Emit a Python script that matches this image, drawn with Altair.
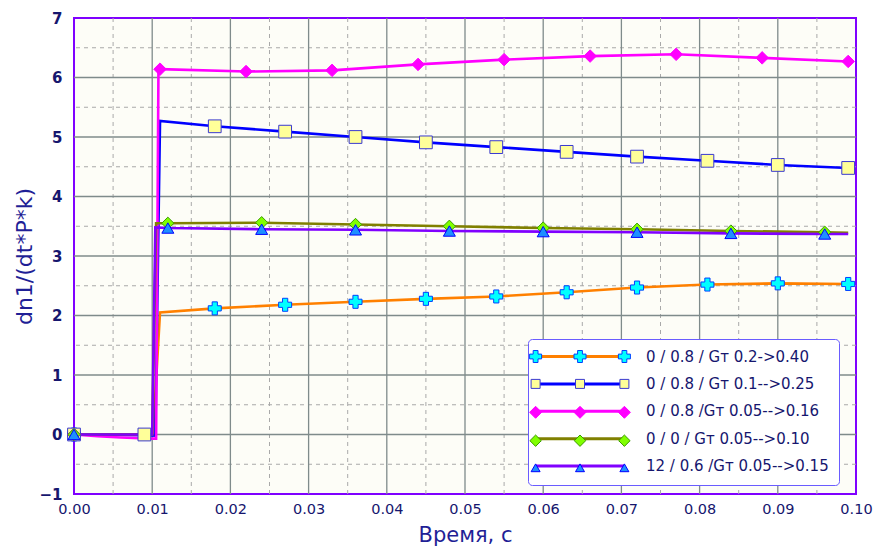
import altair as alt
import pandas as pd

# ---------------- data ----------------
labels = [
    "0 / 0.8 / Gт 0.2->0.40",
    "0 / 0.8 / Gт 0.1-->0.25",
    "0 / 0.8 /Gт 0.05-->0.16",
    "0 / 0 / Gт 0.05-->0.10",
    "12 / 0.6 /Gт 0.05-->0.15",
]

# series 1 (orange)
s1_t = [0, 0.0101, 0.0110, 0.018, 0.027, 0.036, 0.045, 0.054, 0.063, 0.072, 0.081, 0.090, 0.099]
s1_v = [0, 0.0, 2.05, 2.12, 2.18, 2.23, 2.28, 2.32, 2.39, 2.47, 2.52, 2.54, 2.53]
s1_mt = [0, 0.018, 0.027, 0.036, 0.045, 0.054, 0.063, 0.072, 0.081, 0.090, 0.099]
s1_mv = [0, 2.12, 2.18, 2.23, 2.28, 2.32, 2.39, 2.47, 2.52, 2.54, 2.53]

# series 2 (blue)
s2_t = [0, 0.009, 0.0104, 0.0110, 0.018, 0.027, 0.036, 0.045, 0.054, 0.063, 0.072, 0.081, 0.090, 0.099]
s2_v = [0, -0.01, -0.02, 5.27, 5.18, 5.09, 5.00, 4.91, 4.83, 4.75, 4.67, 4.60, 4.53, 4.48]
s2_mt = [0, 0.009, 0.018, 0.027, 0.036, 0.045, 0.054, 0.063, 0.072, 0.081, 0.090, 0.099]
s2_mv = [0, 0.0, 5.18, 5.09, 5.00, 4.91, 4.83, 4.75, 4.67, 4.60, 4.53, 4.48]

# series 3 (magenta)
s3_t = [0, 0.003, 0.006, 0.0100, 0.0105, 0.0108, 0.011, 0.022, 0.033, 0.044, 0.055, 0.066, 0.077, 0.088, 0.099]
s3_v = [0, -0.03, -0.05, -0.07, -0.07, 6.14, 6.14, 6.10, 6.12, 6.22, 6.30, 6.36, 6.39, 6.33, 6.27]
s3_mt = [0, 0.011, 0.022, 0.033, 0.044, 0.055, 0.066, 0.077, 0.088, 0.099]
s3_mv = [0, 6.14, 6.10, 6.12, 6.22, 6.30, 6.36, 6.39, 6.33, 6.27]

# series 4 (olive / green)
s4_t = [0, 0.0100, 0.0105, 0.012, 0.024, 0.036, 0.048, 0.060, 0.072, 0.084, 0.096, 0.099]
s4_v = [0, 0.0, 3.55, 3.55, 3.56, 3.53, 3.50, 3.47, 3.45, 3.42, 3.40, 3.39]
s4_mt = [0, 0.012, 0.024, 0.036, 0.048, 0.060, 0.072, 0.084, 0.096]
s4_mv = [0, 3.55, 3.56, 3.53, 3.50, 3.47, 3.45, 3.42, 3.40]

# series 5 (purple)
s5_t = [0, 0.0100, 0.0104, 0.012, 0.024, 0.036, 0.048, 0.060, 0.072, 0.084, 0.096, 0.099]
s5_v = [0, 0.0, 3.48, 3.47, 3.45, 3.44, 3.42, 3.41, 3.40, 3.38, 3.37, 3.37]
s5_mt = [0, 0.012, 0.024, 0.036, 0.048, 0.060, 0.072, 0.084, 0.096]
s5_mv = [0, 3.47, 3.45, 3.44, 3.42, 3.41, 3.40, 3.38, 3.37]

x_ticks = [0.0, 0.01, 0.02, 0.03, 0.04, 0.05, 0.06, 0.07, 0.08, 0.09, 0.10]
y_ticks = [-1, 0, 1, 2, 3, 4, 5, 6, 7]
major_x = [0.01, 0.02, 0.03, 0.04, 0.05, 0.06, 0.07, 0.08, 0.09]
major_y = [0, 1, 2, 3, 4, 5, 6]
minor_x = [0.005, 0.015, 0.025, 0.035, 0.045, 0.055, 0.065, 0.075, 0.085, 0.095]
minor_y = [-0.5, 0.5, 1.5, 2.5, 3.5, 4.5, 5.5, 6.5]

# ---------------- styles ----------------
line_colors = ["#ff8000", "#0000ff", "#ff00ff", "#808000", "#8000ff"]
marker_fills = ["#00ffff", "#ffff99", "#ff00ff", "#80ff00", "#1e8fff"]
marker_strokes = ["#0040ff", "#3a3ad0", "#ff00ff", "#3c9a00", "#0000ff"]
marker_shapes = ["cross", "square", "diamond", "diamond", "triangle-up"]
marker_sizes = [169, 144, 225, 169, 100]

NAVY = "#16166e"
TITLE = "#1f1f96"
FONT = "DejaVu Sans"

# legend symbol paths: three markers along a line
_shape_pts = {
    "cross": [(-1, -.4), (-1, .4), (-.4, .4), (-.4, 1), (.4, 1), (.4, .4), (1, .4), (1, -.4),
              (.4, -.4), (.4, -1), (-.4, -1), (-.4, -.4)],
    "square": [(-.75, -.75), (.75, -.75), (.75, .75), (-.75, .75)],
    "diamond": [(0, -1), (1, 0), (0, 1), (-1, 0)],
    "diamond_s": [(0, -.95), (.95, 0), (0, .95), (-.95, 0)],
    "triangle": [(0, -.7), (.75, .6), (-.75, .6)],
}
_legend_keys = ["cross", "square", "diamond", "diamond_s", "triangle"]
SPAN = 7.4


def triple(key):
    parts = []
    for dx in (-SPAN, 0, SPAN):
        pts = _shape_pts[key]
        parts.append("M" + "L".join(f"{x + dx:.2f},{y:.2f}" for x, y in pts) + "Z")
    return "".join(parts)


legend_paths = [triple(k) for k in _legend_keys]

# ---------------- tables ----------------
line_rows, mark_rows = [], []
series_data = [
    (s1_t, s1_v, s1_mt, s1_mv), (s2_t, s2_v, s2_mt, s2_mv), (s3_t, s3_v, s3_mt, s3_mv),
    (s4_t, s4_v, s4_mt, s4_mv), (s5_t, s5_v, s5_mt, s5_mv),
]
for k, (lt, lv, mt, mv) in enumerate(series_data):
    for i, (t, v) in enumerate(zip(lt, lv)):
        line_rows.append({"series": labels[k], "t": t, "v": v, "i": i, "k": k})
    for t, v in zip(mt, mv):
        mark_rows.append({"series": labels[k], "t": t, "v": v, "k": k})
lines_df = pd.DataFrame(line_rows)
marks_df = pd.DataFrame(mark_rows)
minor_x_df = pd.DataFrame({"t": minor_x})
minor_y_df = pd.DataFrame({"v": minor_y})
major_x_df = pd.DataFrame({"t": major_x})
major_y_df = pd.DataFrame({"v": major_y})

# ---------------- scales / axes ----------------
xscale = alt.Scale(domain=[0, 0.1], nice=False, zero=False)
yscale = alt.Scale(domain=[-1, 7], nice=False, zero=False)
xaxis = alt.Axis(values=x_ticks, format=".2f", grid=False,
                 domain=False, ticks=False, labelFlush=False, labelOverlap=False,
                 labelFont=FONT, labelFontSize=14.5, labelColor=NAVY, labelPadding=8,
                 title="Время, с", titleFont=FONT, titleFontSize=21, titleFontWeight="normal",
                 titleColor=TITLE, titlePadding=9)
yaxis = alt.Axis(values=y_ticks, format="d", grid=False,
                 domain=False, ticks=False, labelFlush=False, labelOverlap=False,
                 labelFont=FONT, labelFontSize=15, labelFontWeight="bold", labelColor=NAVY,
                 labelPadding=12, title="dn1/(dt*P*k)", titleFont=FONT, titleFontSize=22,
                 titleFontWeight="normal", titleColor=TITLE, titlePadding=2)

X = alt.X("t:Q", scale=xscale, axis=xaxis)
Y = alt.Y("v:Q", scale=yscale, axis=yaxis)

LX, LY = 454, 321
common_legend = dict(orient="none", legendX=LX, legendY=LY, title=None, symbolSize=144,
                     labelFont=FONT, labelFontSize=15, labelColor=NAVY, labelLimit=400,
                     rowPadding=11.4, padding=10, symbolOffset=34.5, labelOffset=58.5)

line_legend = alt.Legend(symbolType="M-7.4,0H7.4", symbolStrokeWidth=3,
                         fillColor="#ffffff", strokeColor="#6a5cff", cornerRadius=4,
                         zindex=1, **common_legend)
marker_legend = alt.Legend(symbolStrokeWidth=1, symbolOpacity=1, labelExpr="''",
                           zindex=2, **common_legend)

minor_xr = alt.Chart(minor_x_df).mark_rule(color="#a9a9a9", strokeDash=[4, 4], strokeWidth=1).encode(x=X)
minor_yr = alt.Chart(minor_y_df).mark_rule(color="#a9a9a9", strokeDash=[4, 4], strokeWidth=1).encode(y=Y)
major_xr = alt.Chart(major_x_df).mark_rule(color="#7f8b8b", strokeWidth=1.3).encode(x=X)
major_yr = alt.Chart(major_y_df).mark_rule(color="#7f8b8b", strokeWidth=1.3).encode(y=Y)

lines = alt.Chart(lines_df).mark_line(strokeWidth=2.6, interpolate="linear").encode(
    x=X, y=Y,
    color=alt.Color("series:N", scale=alt.Scale(domain=labels, range=line_colors), legend=line_legend),
    order=alt.Order("i:Q"),
)

markers = alt.Chart(marks_df).mark_point(filled=True, opacity=1, strokeWidth=1).encode(
    x=X, y=Y,
    shape=alt.Shape("series:N", scale=alt.Scale(domain=labels, range=marker_shapes), legend=None),
    fill=alt.Fill("series:N", scale=alt.Scale(domain=labels, range=marker_fills), legend=None),
    stroke=alt.Stroke("series:N", scale=alt.Scale(domain=labels, range=marker_strokes), legend=None),
    size=alt.Size("series:N", scale=alt.Scale(domain=labels, range=marker_sizes), legend=None),
)

legend_layer = alt.Chart(marks_df).transform_filter("datum.t < -1").mark_point(
    filled=True, opacity=1, strokeWidth=1).encode(
    x=X, y=Y,
    shape=alt.Shape("series:N", scale=alt.Scale(domain=labels, range=legend_paths), legend=marker_legend),
    fill=alt.Fill("series:N", scale=alt.Scale(domain=labels, range=marker_fills), legend=marker_legend),
    stroke=alt.Stroke("series:N", scale=alt.Scale(domain=labels, range=marker_strokes), legend=marker_legend),
)

chart = alt.layer(minor_xr, minor_yr, major_xr, major_yr, lines, markers, legend_layer).resolve_scale(
    shape="independent", fill="independent", stroke="independent", size="independent"
).properties(
    width=782, height=476,
    autosize=alt.AutoSizeParams(type="none"),
    padding={"left": 66, "top": 10, "right": 17, "bottom": 55},
    background="#ffffff",
).configure_view(fill="#fdfdf7", stroke="#7f00ff", strokeWidth=2)

chart.save("out.html", embed_options={"renderer": "svg", "actions": False})
